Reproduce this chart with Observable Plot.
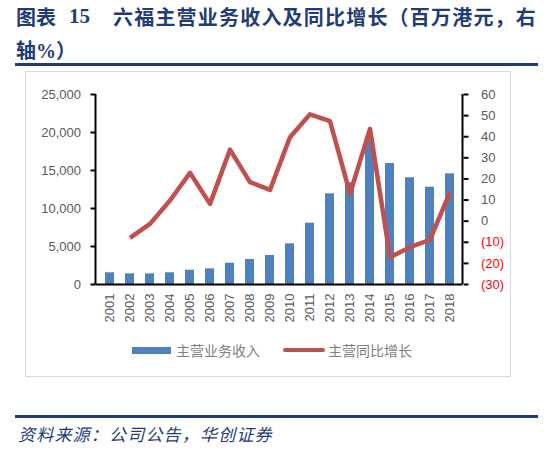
<!DOCTYPE html>
<html>
<head>
<meta charset="utf-8">
<script src="https://cdn.jsdelivr.net/npm/d3@7"></script>
<script src="https://cdn.jsdelivr.net/npm/@observablehq/plot@0.6"></script>
<style>
  html, body { margin: 0; padding: 0; background: #fff; }
  #wrap { position: relative; width: 554px; height: 451px; overflow: hidden; font-family: "Noto Sans CJK SC", sans-serif; }
  .t { position: absolute; white-space: nowrap; color: #1f3c78; font-weight: 700; font-size: 20px; line-height: 33px; }
  .num { font-family: "Liberation Serif", serif; font-weight: 700; }
  .rule { position: absolute; left: 15px; width: 523px; height: 3px; background: #1f3c78; }
  #frame { position: absolute; left: 25px; top: 71px; width: 486px; height: 306px; box-sizing: border-box; border: 1px solid #d9d9d9; }
  #chart { position: absolute; left: 25px; top: 71px; }
  .lg { position: absolute; font-size: 14px; color: #7f7f7f; line-height: 20px; top: 340px; white-space: nowrap; }
  #src { position: absolute; left: 18px; top: 422px; font-size: 17px; line-height: 24px; font-style: italic; color: #1f3c78; letter-spacing: 1.2px; white-space: nowrap; }
</style>
</head>
<body>
<div id="wrap">
  <div class="t" style="left:16px; top:0px;">图表</div>
  <div class="t num" style="left:69px; top:0px; font-size:21px;">15</div>
  <div class="t" style="left:113px; top:0px; letter-spacing:1.2px;">六福主营业务收入及同比增长（百万港元，右</div>
  <div class="t" style="left:16px; top:33px;">轴<span class="num">%</span>）</div>
  <div class="rule" style="top:63px;"></div>
  <div id="frame"></div>
  <div id="chart"></div>
  <div style="position:absolute; left:132px; top:347px; width:39px; height:7px; background:#4f81bd;"></div>
  <div class="lg" style="left:176px;">主营业务收入</div>
  <div style="position:absolute; left:283px; top:348px; width:42px; height:4px; border-radius:2px; background:#c0504d;"></div>
  <div class="lg" style="left:328px;">主营同比增长</div>
  <div class="rule" style="top:415px;"></div>
  <div id="src">资料来源：公司公告，华创证券</div>
</div>
<script>
const years = ["2001","2002","2003","2004","2005","2006","2007","2008","2009","2010","2011","2012","2013","2014","2015","2016","2017","2018"];
const revenue = [1540, 1400, 1400, 1540, 1880, 2060, 2800, 3290, 3820, 5350, 8070, 11930, 13400, 19200, 15920, 14040, 12800, 14560];
const growth = [null, -7.9, -1.3, 9.8, 22.9, 8.2, 33.9, 18.5, 14.8, 39.8, 50.6, 47.4, 13.0, 43.7, -17.1, -12.3, -8.8, 13.7];
const leftTicks = [0, 5000, 10000, 15000, 20000, 25000];
const rightTicks = [-30, -20, -10, 0, 10, 20, 30, 40, 50, 60];

const leftMax = 25000, rMin = -30, rMax = 60;
const toLeft = g => (g - rMin) / (rMax - rMin) * leftMax;
const fromLeft = v => Math.round(v / leftMax * (rMax - rMin) + rMin);
const fmtRight = v => { const g = fromLeft(v); return g < 0 ? `(${-g})` : `${g}`; };

const bars = years.map((y, i) => ({year: y, value: revenue[i]}));
const line = years.map((y, i) => ({year: y, g: growth[i]})).filter(d => d.g !== null);

const plot = Plot.plot({
  width: 486,
  height: 263,
  marginLeft: 70.5,
  marginRight: 48.5,
  marginTop: 23,
  marginBottom: 50,
  style: {fontFamily: "Liberation Sans, sans-serif", fontSize: "13px", background: "transparent", overflow: "visible"},
  x: {type: "band", domain: years, paddingInner: 0.56, paddingOuter: 0.28},
  y: {domain: [0, leftMax]},
  marks: [
    Plot.barY(bars, {x: "year", y: "value", fill: "#4f81bd"}),
    Plot.axisY({anchor: "left", ticks: leftTicks, tickFormat: d3.format(","), tickSize: 5, tickPadding: 10, stroke: "#000", strokeWidth: 2, fill: "#595959", label: null}),
    Plot.axisY({anchor: "right", ticks: rightTicks.filter(t => t >= 0).map(toLeft), tickFormat: fmtRight, tickSize: 5, tickPadding: 13, stroke: "#000", strokeWidth: 2, fill: "#595959", label: null}),
    Plot.axisY({anchor: "right", ticks: rightTicks.filter(t => t < 0).map(toLeft), tickFormat: fmtRight, tickSize: 5, tickPadding: 13, stroke: "#000", strokeWidth: 2, fill: "#ff0000", label: null}),
    Plot.axisX({tickRotate: -90, tickSize: 0, tickPadding: 9, fill: "#595959", label: null}),
    Plot.ruleY([0], {stroke: "#000", strokeWidth: 2}),
    Plot.line(line, {x: "year", y: d => toLeft(d.g), stroke: "#c0504d", strokeWidth: 4.5, strokeLinejoin: "round", strokeLinecap: "butt"})
  ]
});

// vertical axis lines at the edges of the x scale's range, from the y scale's range
const xr = plot.scale("x").range, yr = plot.scale("y").range;
const svg = d3.select(plot);
[xr[0], xr[1]].forEach(x => {
  svg.append("line").attr("x1", x).attr("x2", x).attr("y1", yr[0]).attr("y2", yr[1])
    .attr("stroke", "#000").attr("stroke-width", 2);
});
document.getElementById("chart").appendChild(plot);
</script>
</body>
</html>
